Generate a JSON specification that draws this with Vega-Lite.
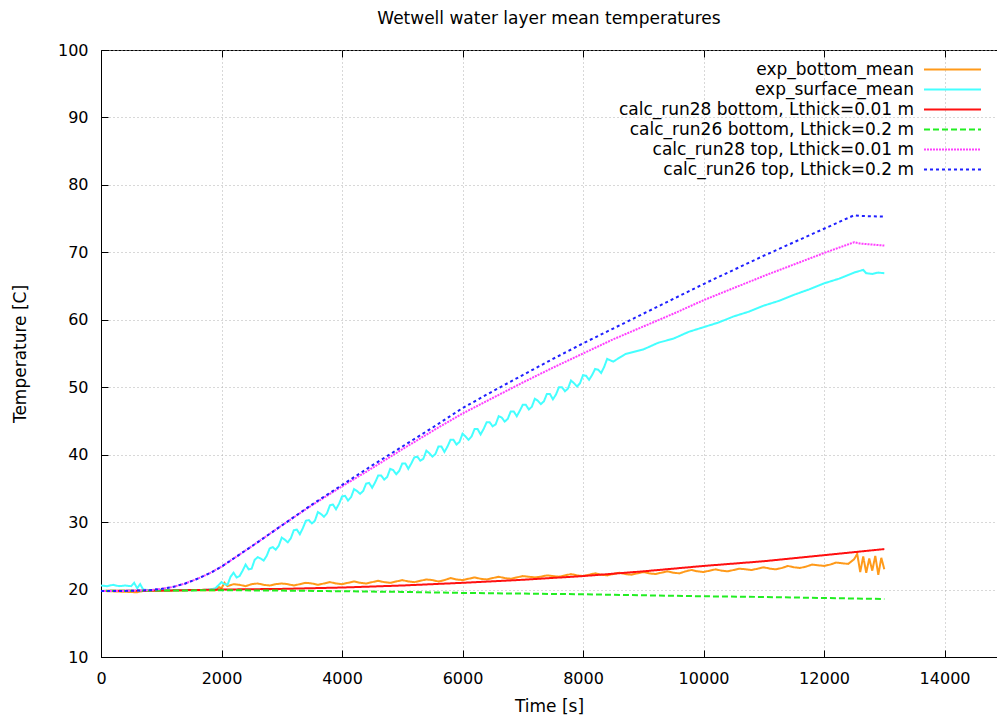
{
  "$schema": "https://vega.github.io/schema/vega-lite/v6.json",
  "width": 896,
  "height": 607,
  "autosize": "none",
  "padding": {"left": 101, "top": 50, "right": 0, "bottom": 61},
  "background": "white",
  "config": {"font": "DejaVu Sans", "view": {"stroke": "#000", "strokeWidth": 1}},
  "title": {"text": "Wetwell water layer mean temperatures", "fontSize": 17, "fontWeight": "normal", "color": "#000", "offset": 14, "anchor": "middle", "font": "DejaVu Sans"},
  "data": {"values": [
    {"s":"a","t":0,"v":19.8},{"s":"a","t":300,"v":19.7},{"s":"a","t":600,"v":19.6},{"s":"a","t":700,"v":19.8},{"s":"a","t":1000,"v":19.8},{"s":"a","t":1500,"v":19.9},{"s":"a","t":1900,"v":19.9},{"s":"a","t":1950,"v":20.4},{"s":"a","t":2000,"v":20.2},{"s":"a","t":2050,"v":21.0},{"s":"a","t":2100,"v":20.5},{"s":"a","t":2200,"v":20.8},{"s":"a","t":2300,"v":20.7},{"s":"a","t":2400,"v":20.5},{"s":"a","t":2500,"v":20.8},{"s":"a","t":2600,"v":20.9},{"s":"a","t":2700,"v":20.7},{"s":"a","t":2800,"v":20.6},{"s":"a","t":2900,"v":20.8},{"s":"a","t":3000,"v":20.9},{"s":"a","t":3100,"v":20.8},{"s":"a","t":3200,"v":20.6},{"s":"a","t":3300,"v":20.8},{"s":"a","t":3400,"v":21.0},{"s":"a","t":3500,"v":20.9},{"s":"a","t":3600,"v":20.7},{"s":"a","t":3700,"v":20.9},{"s":"a","t":3800,"v":21.1},{"s":"a","t":3900,"v":20.9},{"s":"a","t":4000,"v":20.8},{"s":"a","t":4100,"v":21.0},{"s":"a","t":4200,"v":21.2},{"s":"a","t":4300,"v":21.0},{"s":"a","t":4400,"v":20.9},{"s":"a","t":4500,"v":21.1},{"s":"a","t":4600,"v":21.3},{"s":"a","t":4700,"v":21.1},{"s":"a","t":4800,"v":21.0},{"s":"a","t":4900,"v":21.2},{"s":"a","t":5000,"v":21.4},{"s":"a","t":5100,"v":21.2},{"s":"a","t":5200,"v":21.1},{"s":"a","t":5300,"v":21.3},{"s":"a","t":5400,"v":21.5},{"s":"a","t":5500,"v":21.4},{"s":"a","t":5600,"v":21.2},{"s":"a","t":5700,"v":21.4},{"s":"a","t":5800,"v":21.7},{"s":"a","t":5900,"v":21.5},{"s":"a","t":6000,"v":21.4},{"s":"a","t":6100,"v":21.6},{"s":"a","t":6200,"v":21.8},{"s":"a","t":6300,"v":21.6},{"s":"a","t":6400,"v":21.5},{"s":"a","t":6500,"v":21.7},{"s":"a","t":6600,"v":21.9},{"s":"a","t":6700,"v":21.7},{"s":"a","t":6800,"v":21.6},{"s":"a","t":6900,"v":21.8},{"s":"a","t":7000,"v":22.0},{"s":"a","t":7100,"v":21.9},{"s":"a","t":7200,"v":21.8},{"s":"a","t":7300,"v":21.9},{"s":"a","t":7400,"v":22.1},{"s":"a","t":7500,"v":22.0},{"s":"a","t":7600,"v":21.9},{"s":"a","t":7700,"v":22.1},{"s":"a","t":7800,"v":22.3},{"s":"a","t":7900,"v":22.1},{"s":"a","t":8000,"v":22.0},{"s":"a","t":8100,"v":22.2},{"s":"a","t":8200,"v":22.4},{"s":"a","t":8300,"v":22.2},{"s":"a","t":8400,"v":22.1},{"s":"a","t":8500,"v":22.3},{"s":"a","t":8600,"v":22.5},{"s":"a","t":8700,"v":22.3},{"s":"a","t":8800,"v":22.2},{"s":"a","t":8900,"v":22.4},{"s":"a","t":9000,"v":22.6},{"s":"a","t":9100,"v":22.4},{"s":"a","t":9200,"v":22.3},{"s":"a","t":9300,"v":22.5},{"s":"a","t":9400,"v":22.7},{"s":"a","t":9500,"v":22.5},{"s":"a","t":9600,"v":22.4},{"s":"a","t":9700,"v":22.7},{"s":"a","t":9800,"v":22.9},{"s":"a","t":9900,"v":22.7},{"s":"a","t":10000,"v":22.6},{"s":"a","t":10100,"v":22.8},{"s":"a","t":10200,"v":23.0},{"s":"a","t":10300,"v":22.8},{"s":"a","t":10400,"v":22.7},{"s":"a","t":10500,"v":22.9},{"s":"a","t":10600,"v":23.1},{"s":"a","t":10700,"v":23.0},{"s":"a","t":10800,"v":22.9},{"s":"a","t":10900,"v":23.1},{"s":"a","t":11000,"v":23.3},{"s":"a","t":11100,"v":23.1},{"s":"a","t":11200,"v":23.0},{"s":"a","t":11300,"v":23.2},{"s":"a","t":11400,"v":23.5},{"s":"a","t":11500,"v":23.3},{"s":"a","t":11600,"v":23.2},{"s":"a","t":11700,"v":23.4},{"s":"a","t":11800,"v":23.7},{"s":"a","t":11900,"v":23.6},{"s":"a","t":12000,"v":23.5},{"s":"a","t":12100,"v":23.7},{"s":"a","t":12200,"v":24.0},{"s":"a","t":12300,"v":23.9},{"s":"a","t":12400,"v":23.8},{"s":"a","t":12500,"v":24.5},{"s":"a","t":12550,"v":25.3},{"s":"a","t":12600,"v":22.6},{"s":"a","t":12650,"v":24.9},{"s":"a","t":12700,"v":22.5},{"s":"a","t":12750,"v":24.6},{"s":"a","t":12800,"v":22.8},{"s":"a","t":12850,"v":25.0},{"s":"a","t":12900,"v":22.2},{"s":"a","t":12950,"v":24.7},{"s":"a","t":13000,"v":23.0},
    {"s":"b","t":0,"v":20.6},{"s":"b","t":100,"v":20.5},{"s":"b","t":200,"v":20.7},{"s":"b","t":300,"v":20.5},{"s":"b","t":400,"v":20.6},{"s":"b","t":500,"v":20.5},{"s":"b","t":550,"v":21.0},{"s":"b","t":600,"v":20.2},{"s":"b","t":650,"v":20.8},{"s":"b","t":700,"v":20.0},{"s":"b","t":800,"v":19.9},{"s":"b","t":1200,"v":19.9},{"s":"b","t":1600,"v":19.9},{"s":"b","t":1800,"v":20.0},{"s":"b","t":1900,"v":20.2},
    {"s":"b","t":2000,"v":21.1},{"s":"b","t":2050,"v":20.8},{"s":"b","t":2100,"v":20.7},{"s":"b","t":2150,"v":21.9},{"s":"b","t":2200,"v":22.5},{"s":"b","t":2250,"v":21.8},{"s":"b","t":2300,"v":22.0},{"s":"b","t":2350,"v":22.8},{"s":"b","t":2400,"v":23.7},{"s":"b","t":2450,"v":23.0},{"s":"b","t":2500,"v":23.1},{"s":"b","t":2550,"v":24.4},{"s":"b","t":2600,"v":24.8},{"s":"b","t":2650,"v":24.6},{"s":"b","t":2700,"v":24.3},{"s":"b","t":2750,"v":25.0},{"s":"b","t":2800,"v":26.1},{"s":"b","t":2850,"v":26.3},{"s":"b","t":2900,"v":25.9},{"s":"b","t":2950,"v":26.5},{"s":"b","t":3000,"v":27.7},{"s":"b","t":3050,"v":27.4},{"s":"b","t":3100,"v":27.0},{"s":"b","t":3150,"v":27.6},{"s":"b","t":3200,"v":28.8},{"s":"b","t":3250,"v":28.9},{"s":"b","t":3300,"v":28.2},{"s":"b","t":3350,"v":29.1},{"s":"b","t":3400,"v":30.2},{"s":"b","t":3450,"v":30.3},{"s":"b","t":3500,"v":29.8},{"s":"b","t":3550,"v":30.2},{"s":"b","t":3600,"v":31.5},{"s":"b","t":3650,"v":31.2},{"s":"b","t":3700,"v":30.8},{"s":"b","t":3750,"v":31.3},{"s":"b","t":3800,"v":32.5},{"s":"b","t":3850,"v":32.6},{"s":"b","t":3900,"v":31.9},{"s":"b","t":3950,"v":32.7},{"s":"b","t":4000,"v":33.8},{"s":"b","t":4050,"v":33.9},{"s":"b","t":4100,"v":33.2},{"s":"b","t":4150,"v":33.7},{"s":"b","t":4200,"v":34.9},{"s":"b","t":4250,"v":34.6},{"s":"b","t":4300,"v":34.2},{"s":"b","t":4350,"v":34.6},{"s":"b","t":4400,"v":35.7},{"s":"b","t":4450,"v":35.8},{"s":"b","t":4500,"v":35.1},{"s":"b","t":4550,"v":35.9},{"s":"b","t":4600,"v":36.9},{"s":"b","t":4650,"v":36.9},{"s":"b","t":4700,"v":36.3},{"s":"b","t":4750,"v":36.7},{"s":"b","t":4800,"v":37.9},{"s":"b","t":4850,"v":37.7},{"s":"b","t":4900,"v":37.1},{"s":"b","t":4950,"v":37.6},{"s":"b","t":5000,"v":38.7},{"s":"b","t":5050,"v":38.7},{"s":"b","t":5100,"v":37.9},{"s":"b","t":5150,"v":38.7},{"s":"b","t":5200,"v":39.6},{"s":"b","t":5250,"v":39.7},{"s":"b","t":5300,"v":39.1},{"s":"b","t":5350,"v":39.4},{"s":"b","t":5400,"v":40.6},{"s":"b","t":5450,"v":40.2},{"s":"b","t":5500,"v":39.7},{"s":"b","t":5550,"v":40.1},{"s":"b","t":5600,"v":41.2},{"s":"b","t":5650,"v":41.2},{"s":"b","t":5700,"v":40.4},{"s":"b","t":5750,"v":41.2},{"s":"b","t":5800,"v":42.2},{"s":"b","t":5850,"v":42.2},{"s":"b","t":5900,"v":41.5},{"s":"b","t":5950,"v":41.9},{"s":"b","t":6000,"v":43.1},{"s":"b","t":6050,"v":42.7},{"s":"b","t":6100,"v":42.2},{"s":"b","t":6150,"v":42.7},{"s":"b","t":6200,"v":43.8},{"s":"b","t":6250,"v":43.8},{"s":"b","t":6300,"v":43.0},{"s":"b","t":6350,"v":43.8},{"s":"b","t":6400,"v":44.8},{"s":"b","t":6450,"v":44.8},{"s":"b","t":6500,"v":44.2},{"s":"b","t":6550,"v":44.5},{"s":"b","t":6600,"v":45.7},{"s":"b","t":6650,"v":45.5},{"s":"b","t":6700,"v":44.9},{"s":"b","t":6750,"v":45.3},{"s":"b","t":6800,"v":46.4},{"s":"b","t":6850,"v":46.4},{"s":"b","t":6900,"v":45.7},{"s":"b","t":6950,"v":46.5},{"s":"b","t":7000,"v":47.4},{"s":"b","t":7050,"v":47.4},{"s":"b","t":7100,"v":46.7},{"s":"b","t":7150,"v":47.1},{"s":"b","t":7200,"v":48.3},{"s":"b","t":7250,"v":48.0},{"s":"b","t":7300,"v":47.5},{"s":"b","t":7350,"v":47.9},{"s":"b","t":7400,"v":49.0},{"s":"b","t":7450,"v":49.0},{"s":"b","t":7500,"v":48.2},{"s":"b","t":7550,"v":48.9},{"s":"b","t":7600,"v":50.0},{"s":"b","t":7650,"v":50.0},{"s":"b","t":7700,"v":49.4},{"s":"b","t":7750,"v":49.8},{"s":"b","t":7800,"v":51.0},{"s":"b","t":7850,"v":50.6},{"s":"b","t":7900,"v":50.1},{"s":"b","t":7950,"v":50.6},{"s":"b","t":8000,"v":51.8},{"s":"b","t":8050,"v":51.7},{"s":"b","t":8100,"v":51.1},{"s":"b","t":8150,"v":51.8},{"s":"b","t":8200,"v":52.7},{"s":"b","t":8250,"v":52.6},{"s":"b","t":8300,"v":52.1},{"s":"b","t":8350,"v":53.0},{"s":"b","t":8400,"v":54.2},{"s":"b","t":8500,"v":53.8},
    {"s":"b","t":8700,"v":54.9},{"s":"b","t":9000,"v":55.6},{"s":"b","t":9250,"v":56.6},{"s":"b","t":9500,"v":57.2},{"s":"b","t":9750,"v":58.2},{"s":"b","t":10000,"v":58.9},{"s":"b","t":10250,"v":59.6},{"s":"b","t":10500,"v":60.5},{"s":"b","t":10750,"v":61.2},{"s":"b","t":11000,"v":62.1},{"s":"b","t":11250,"v":62.8},{"s":"b","t":11500,"v":63.7},{"s":"b","t":11750,"v":64.5},{"s":"b","t":12000,"v":65.4},{"s":"b","t":12250,"v":66.1},{"s":"b","t":12500,"v":67.0},{"s":"b","t":12650,"v":67.4},{"s":"b","t":12700,"v":66.9},{"s":"b","t":12800,"v":66.8},{"s":"b","t":12900,"v":67.0},{"s":"b","t":13000,"v":66.9},
    {"s":"c","t":0,"v":19.8},{"s":"c","t":1000,"v":19.85},{"s":"c","t":2000,"v":20.0},{"s":"c","t":3000,"v":20.1},{"s":"c","t":4000,"v":20.3},{"s":"c","t":5000,"v":20.6},{"s":"c","t":6000,"v":21.0},{"s":"c","t":7000,"v":21.45},{"s":"c","t":8000,"v":22.0},{"s":"c","t":9000,"v":22.7},{"s":"c","t":10000,"v":23.5},{"s":"c","t":11000,"v":24.2},{"s":"c","t":12000,"v":25.1},{"s":"c","t":13000,"v":26.0},
    {"s":"d","t":0,"v":19.8},{"s":"d","t":1000,"v":19.85},{"s":"d","t":2000,"v":19.9},{"s":"d","t":3000,"v":19.85},{"s":"d","t":4000,"v":19.75},{"s":"d","t":5000,"v":19.65},{"s":"d","t":6000,"v":19.5},{"s":"d","t":7000,"v":19.4},{"s":"d","t":8000,"v":19.3},{"s":"d","t":9000,"v":19.15},{"s":"d","t":10000,"v":19.0},{"s":"d","t":11000,"v":18.9},{"s":"d","t":12000,"v":18.75},{"s":"d","t":13000,"v":18.6},
    {"s":"e","t":0,"v":19.8},{"s":"e","t":400,"v":19.8},{"s":"e","t":800,"v":19.9},{"s":"e","t":1000,"v":20.1},{"s":"e","t":1200,"v":20.4},{"s":"e","t":1400,"v":20.9},{"s":"e","t":1600,"v":21.6},{"s":"e","t":1800,"v":22.4},{"s":"e","t":1900,"v":22.9},{"s":"e","t":2000,"v":23.4},{"s":"e","t":2200,"v":24.6},{"s":"e","t":2500,"v":26.4},{"s":"e","t":3000,"v":29.5},{"s":"e","t":3500,"v":32.5},{"s":"e","t":4000,"v":35.3},{"s":"e","t":4500,"v":38.0},{"s":"e","t":5000,"v":40.8},{"s":"e","t":5500,"v":43.5},{"s":"e","t":6000,"v":46.1},{"s":"e","t":6500,"v":48.4},{"s":"e","t":7000,"v":50.7},{"s":"e","t":7500,"v":52.9},{"s":"e","t":8000,"v":55.0},{"s":"e","t":8500,"v":57.1},{"s":"e","t":9000,"v":59.0},{"s":"e","t":9500,"v":60.9},{"s":"e","t":10000,"v":62.9},{"s":"e","t":10500,"v":64.7},{"s":"e","t":11000,"v":66.5},{"s":"e","t":11500,"v":68.2},{"s":"e","t":12000,"v":69.9},{"s":"e","t":12500,"v":71.5},{"s":"e","t":12600,"v":71.3},{"s":"e","t":13000,"v":71.0},
    {"s":"f","t":0,"v":19.8},{"s":"f","t":400,"v":19.8},{"s":"f","t":800,"v":19.9},{"s":"f","t":1000,"v":20.1},{"s":"f","t":1200,"v":20.4},{"s":"f","t":1400,"v":20.9},{"s":"f","t":1600,"v":21.6},{"s":"f","t":1800,"v":22.4},{"s":"f","t":1900,"v":22.9},{"s":"f","t":2000,"v":23.4},{"s":"f","t":2200,"v":24.6},{"s":"f","t":2500,"v":26.4},{"s":"f","t":3000,"v":29.5},{"s":"f","t":3500,"v":32.6},{"s":"f","t":4000,"v":35.5},{"s":"f","t":4500,"v":38.4},{"s":"f","t":5000,"v":41.2},{"s":"f","t":5500,"v":44.0},{"s":"f","t":6000,"v":46.9},{"s":"f","t":6500,"v":49.4},{"s":"f","t":7000,"v":51.8},{"s":"f","t":7500,"v":54.2},{"s":"f","t":8000,"v":56.5},{"s":"f","t":8500,"v":58.7},{"s":"f","t":9000,"v":60.9},{"s":"f","t":9500,"v":63.1},{"s":"f","t":10000,"v":65.3},{"s":"f","t":10500,"v":67.4},{"s":"f","t":11000,"v":69.5},{"s":"f","t":11500,"v":71.5},{"s":"f","t":12000,"v":73.5},{"s":"f","t":12500,"v":75.5},{"s":"f","t":12600,"v":75.4},{"s":"f","t":13000,"v":75.3}
  ]},
  "layer": [
    {
      "mark": {"type": "line", "strokeWidth": 2, "clip": true},
      "encoding": {
        "x": {"field": "t", "type": "quantitative", "scale": {"domain": [0, 14870], "nice": false, "zero": false},
          "axis": {"values": [0,2000,4000,6000,8000,10000,12000,14000], "format": "d", "grid": true, "gridColor": "#b0b0b0", "gridDash": [1, 3], "ticks": false, "tickSize": 0, "domainColor": "#000", "labelFontSize": 16, "labelColor": "#000", "labelPadding": 13, "labelFlush": false, "labelOverlap": false, "title": "Time [s]", "titleFontSize": 17, "titleFontWeight": "normal", "titleColor": "#000", "titlePadding": 12}},
        "y": {"field": "v", "type": "quantitative", "scale": {"domain": [10, 100], "nice": false, "zero": false},
          "axis": {"values": [10,20,30,40,50,60,70,80,90,100], "grid": true, "gridColor": "#b0b0b0", "gridDash": [1, 3], "ticks": false, "tickSize": 0, "domainColor": "#000", "labelFontSize": 16, "labelColor": "#000", "labelPadding": 13, "labelOverlap": false, "title": "Temperature [C]", "titleFontSize": 17, "titleFontWeight": "normal", "titleColor": "#000", "titlePadding": 28}},
        "color": {"field": "s", "type": "nominal",
          "scale": {"domain": ["a","b","c","d","e","f"], "range": ["#ff9a1a", "#44ffff", "#ff1010", "#22ee22", "#ff40ff", "#2020ff"]},
          "legend": {"title": null, "orient": "none", "legendX": 843, "legendY": 11, "labelAlign": "right", "labelOffset": -47, "symbolType": "M-5,0H5", "symbolSize": 130, "symbolStrokeWidth": 2, "labelFontSize": 17, "labelColor": "#000", "labelLimit": 500, "rowPadding": 2, "padding": 0,
            "labelExpr": "datum.label=='a'?'exp_bottom_mean':datum.label=='b'?'exp_surface_mean':datum.label=='c'?'calc_run28 bottom, Lthick=0.01 m':datum.label=='d'?'calc_run26 bottom, Lthick=0.2 m':datum.label=='e'?'calc_run28 top, Lthick=0.01 m':'calc_run26 top, Lthick=0.2 m'"}},
        "strokeDash": {"field": "s", "type": "nominal",
          "scale": {"domain": ["a","b","c","d","e","f"], "range": [[1,0],[1,0],[1,0],[6,3],[2,1],[3,3]]},
          "legend": {"title": null, "orient": "none", "legendX": 843, "legendY": 11, "labelAlign": "right", "labelOffset": -47, "symbolType": "M-5,0H5", "symbolSize": 130, "symbolStrokeWidth": 2, "labelFontSize": 17, "labelColor": "#000", "labelLimit": 500, "rowPadding": 2, "padding": 0,
            "labelExpr": "datum.label=='a'?'exp_bottom_mean':datum.label=='b'?'exp_surface_mean':datum.label=='c'?'calc_run28 bottom, Lthick=0.01 m':datum.label=='d'?'calc_run26 bottom, Lthick=0.2 m':datum.label=='e'?'calc_run28 top, Lthick=0.01 m':'calc_run26 top, Lthick=0.2 m'"}}
      }
    },
    {
      "data": {"values": [{"t": 0, "v": 10}]},
      "mark": {"type": "point", "opacity": 0},
      "encoding": {
        "x": {"field": "t", "type": "quantitative",
          "axis": {"orient": "bottom", "offset": -7, "values": [0,2000,4000,6000,8000,10000,12000,14000], "labels": false, "grid": false, "domain": false, "ticks": true, "tickSize": 7, "tickColor": "#000", "title": null}},
        "y": {"field": "v", "type": "quantitative",
          "axis": {"orient": "left", "offset": -7, "values": [10,20,30,40,50,60,70,80,90,100], "labels": false, "grid": false, "domain": false, "ticks": true, "tickSize": 7, "tickColor": "#000", "title": null}}
      }
    },
    {
      "data": {"values": [{"t": 0}]},
      "mark": {"type": "point", "opacity": 0},
      "encoding": {
        "x": {"field": "t", "type": "quantitative",
          "axis": {"orient": "top", "offset": -7, "values": [0,2000,4000,6000,8000,10000,12000,14000], "labels": false, "grid": false, "domain": false, "ticks": true, "tickSize": 7, "tickColor": "#000", "title": null}}
      }
    }
  ],
  "resolve": {"axis": {"x": "independent", "y": "independent"}}
}
